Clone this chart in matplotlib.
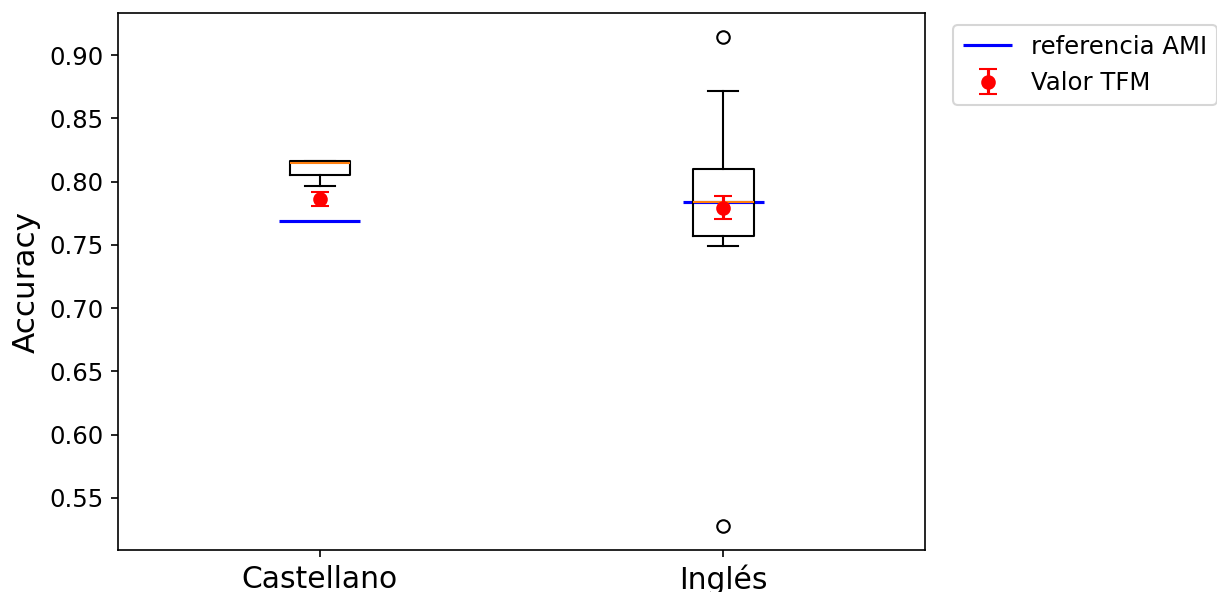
import numpy as np
import matplotlib
matplotlib.use('Agg')
import matplotlib.pyplot as plt

# box statistics
languages = ['Castellano', 'Inglés']
whislo = [0.7965, 0.7494]
q1 = [0.805, 0.757]
med = [0.8147, 0.7836]
q3 = [0.8163, 0.810]
whishi = [0.8163, 0.8718]
fliers = [[], [0.914, 0.528]]

# reference and own results
ami_ref = [0.769, 0.7836]
tfm_val = [0.786, 0.7794]
tfm_err = [0.0055, 0.009]

stats = []
for i in range(len(languages)):
    stats.append({'whislo': whislo[i], 'q1': q1[i], 'med': med[i], 'q3': q3[i],
                  'whishi': whishi[i], 'fliers': fliers[i], 'label': languages[i]})

pos = np.arange(1, len(languages) + 1)

fig = plt.figure(figsize=(8.12, 3.947), dpi=150)
ax = fig.add_axes([0.0969, 0.0709, 0.6626, 0.9071])

for i, p in enumerate(pos):
    ax.hlines(ami_ref[i], p - 0.1, p + 0.1, colors='blue', linewidth=1.5,
              label='referencia AMI' if i == 0 else None, zorder=1)

ax.bxp(stats, positions=pos, widths=0.15)

ax.errorbar(pos, tfm_val, yerr=tfm_err, fmt='o', color='red', capsize=4.5,
            markersize=6, label='Valor TFM', zorder=5)

ax.set_xticks(pos)
ax.set_xticklabels(languages, fontsize=14.3)
ax.tick_params(axis='y', labelsize=11.7)
ax.set_ylabel('Accuracy', fontsize=14.9)
ax.set_xlim(0.5, 2.5)

ax.legend(loc='upper left', bbox_to_anchor=(1.02, 1), fontsize=11.7)

plt.savefig('out.png', dpi=150)
